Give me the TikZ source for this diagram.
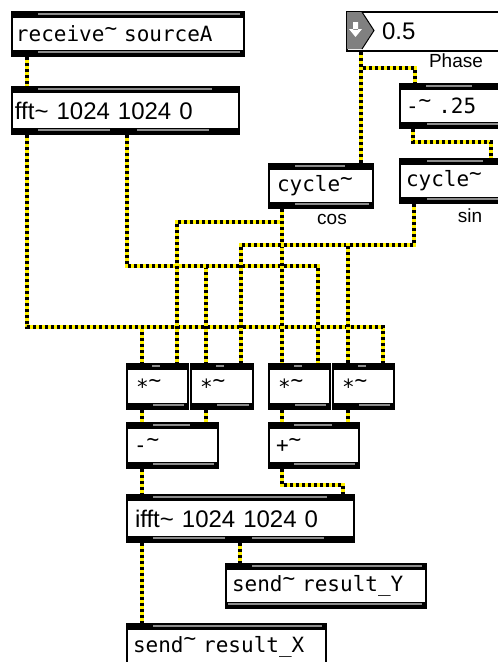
\documentclass[tikz,border=0pt]{standalone}
\usepackage{fontspec}
\setmainfont{Liberation Sans}
\newfontfamily\pix{DejaVu Sans Mono}
\usetikzlibrary{calc}
\pgfdeclarelayer{bg}
\pgfsetlayers{bg,main}
\newcommand\rt{\raisebox{0.3em}{\textasciitilde}}
\newcommand\pixfont{\pix\fontsize{21}{21}\selectfont}
\newcommand\sansfont{\fontsize{24}{24}\selectfont}
\tikzset{
  maxobj/.style={draw=black, line width=2pt, fill=white, rectangle, anchor=north west,
    inner ysep=0pt, align=left,
    path picture={\fill[black] (path picture bounding box.north west) rectangle ([yshift=-6pt]path picture bounding box.north east);
      \fill[black] (path picture bounding box.south west) rectangle ([yshift=6pt]path picture bounding box.south east);}},
  greyline/.style={draw=black!45, line width=2pt},
  cord/.style={draw=black, line width=3.5pt, dash pattern=on 3pt off 3pt,
    preaction={draw=yellow, line width=4pt, solid}},
  lab/.style={font=\fontsize{19}{19}\selectfont, inner sep=0pt}
}
% name, x1, y1, x2, y2, pad, font, text
\newcommand\maxbox[8]{%
  \pgfmathsetmacro\bw{#4-#2}\pgfmathsetmacro\bh{#5-#3}\pgfmathsetmacro\tw{#4-#2-2*#6}%
  \node[maxobj, minimum width=\bw pt, minimum height=\bh pt, inner xsep=#6pt,
        text width=\tw pt, font=#7] (#1) at (#2,#3) {#8};}
\newcommand\gl[3]{\draw[greyline] (#1,#3) -- (#2,#3);}
\begin{document}
\begin{tikzpicture}[x=1pt, y=-1pt]
\useasboundingbox (0,0) rectangle (498,662);

% objects
\maxbox{recv}{11}{11}{243}{55}{4}{\pixfont}{receive\rt{} sourceA}
\maxbox{fft}{11}{86}{238}{133}{3}{\sansfont}{fft\textasciitilde{} 1024 1024 0}
\maxbox{cos}{268}{163}{372}{207}{8}{\pixfont}{cycle\rt}
\maxbox{sub25}{399}{83}{500}{127}{6}{\pixfont}{-\rt{} .25}
\maxbox{sin}{399}{158}{500}{202}{6}{\pixfont}{cycle\rt}
\maxbox{m1}{126}{363}{187}{408}{9}{\pixfont}{*\rt}
\maxbox{m2}{190}{363}{252}{408}{9}{\pixfont}{*\rt}
\maxbox{m3}{268}{363}{329}{408}{9}{\pixfont}{*\rt}
\maxbox{m4}{332}{363}{393}{408}{9}{\pixfont}{*\rt}
\maxbox{sub}{126}{422}{217}{467}{7}{\pixfont}{-\rt}
\maxbox{add}{268}{422}{358}{467}{7}{\pixfont}{+\rt}
\maxbox{ifft}{126}{494}{353}{541}{8}{\sansfont}{ifft\textasciitilde{} 1024 1024 0}
\maxbox{sendY}{225}{563}{425}{607}{6}{\pixfont}{send\rt{} result\_Y}
\maxbox{sendX}{126}{623}{325}{668}{6}{\pixfont}{send\rt{} result\_X}

% number box
\node[draw=black, line width=2pt, fill=white, anchor=north west, minimum width=154pt,
      minimum height=39pt, inner xsep=35pt, inner ysep=0pt, text width=84pt, align=left,
      font=\fontsize{24}{24}\selectfont] (num) at (346,11) {0.5};
\fill[black!50] (347,12) -- (362,12) -- (374,30.5) -- (362,49) -- (347,49) -- cycle;
\draw[black, line width=1pt] (362,12) -- (374,30.5) -- (362,49);
\fill[white] (353,22) rectangle (358,30) (349,29) -- (362,29) -- (355.5,37) -- cycle;

% labels
\node[lab] (phase) at (456,61) {Phase};
\node[lab] (coslab) at (332,219) {cos};
\node[lab] (sinlab) at (470,216) {sin};

% inlet / outlet marks
\gl{38}{240}{14}\gl{38}{240}{52}
\gl{38}{212}{89}\gl{38}{110}{130}\gl{137}{209}{130}
\gl{295}{345}{166}\gl{295}{369}{204}
\gl{426}{472}{86}\gl{427}{498}{124}
\gl{427}{483}{161}\gl{427}{498}{199}
\gl{152}{160}{366}\gl{153}{184}{405}
\gl{216}{224}{366}\gl{217}{249}{405}
\gl{294}{302}{366}\gl{295}{326}{405}
\gl{358}{366}{366}\gl{359}{390}{405}
\gl{153}{190}{425}\gl{153}{214}{464}
\gl{294}{332}{425}\gl{294}{355}{464}
\gl{153}{327}{497}\gl{153}{225}{538}\gl{252}{324}{538}
\gl{252}{422}{566}\gl{228}{422}{604}
\gl{153}{322}{626}

% patch cords
\begin{pgfonlayer}{bg}
\fill[white] (0,0) rectangle (498,662);
\draw[cord] (recv.south -| 27,0) -- (fft.north -| 27,0);
\draw[cord] (fft.south -| 27,0) |- (142,327) -- (m1.north -| 142,0);
\draw[cord] (fft.south -| 27,0) |- (383,327) -- (m4.north -| 383,0);
\draw[cord] (fft.south -| 127,0) |- (206,266) -- (m2.north -| 206,0);
\draw[cord] (fft.south -| 127,0) |- (318,266) -- (m3.north -| 318,0);
\draw[cord] (num.south -| 361,0) -- (cos.north -| 361,0);
\draw[cord] (num.south -| 361,0) |- (415,68) -- (sub25.north -| 415,0);
\draw[cord] (sub25.south -| 413,0) |- (491,142) -- (sin.north -| 491,0);
\draw[cord] (cos.south -| 282,0) |- (177,222) -- (m1.north -| 177,0);
\draw[cord] (cos.south -| 282,0) -- (m3.north -| 282,0);
\draw[cord] (sin.south -| 414,0) |- (241,245) -- (m2.north -| 241,0);
\draw[cord] (sin.south -| 414,0) |- (348,245) -- (m4.north -| 348,0);
\draw[cord] (m1.south -| 142,0) -- (sub.north -| 142,0);
\draw[cord] (m2.south -| 206,0) -- (sub.north -| 206,0);
\draw[cord] (m3.south -| 282,0) -- (add.north -| 282,0);
\draw[cord] (m4.south -| 348,0) -- (add.north -| 348,0);
\draw[cord] (sub.south -| 142,0) -- (ifft.north -| 142,0);
\draw[cord] (add.south -| 282,0) |- (343,485) -- (ifft.north -| 343,0);
\draw[cord] (ifft.south -| 142,0) -- (sendX.north -| 142,0);
\draw[cord] (ifft.south -| 240,0) -- (sendY.north -| 240,0);
\end{pgfonlayer}
\end{tikzpicture}
\end{document}
